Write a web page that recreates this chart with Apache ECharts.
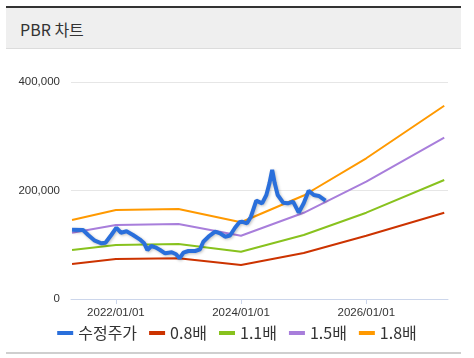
<!DOCTYPE html>
<html>
<head>
<meta charset="utf-8">
<script src="https://cdn.jsdelivr.net/npm/echarts@6/dist/echarts.min.js"></script>
<style>
  html, body { margin: 0; padding: 0; background: #fff; }
  body { width: 474px; height: 358px; position: relative; overflow: hidden; }
  #topbar { position: absolute; left: 6px; top: 6px; width: 455px; height: 2px; background: #333; }
  #header { position: absolute; left: 6px; top: 8px; width: 455px; height: 40px; background: #efefef; border-bottom: 1px solid #dcdcdc; }
  #header span { position: absolute; left: 14px; top: 10px; font-family: "Noto Sans CJK KR", sans-serif; font-size: 16px; color: #333; line-height: 22px; }
  #bottomline { position: absolute; left: 6px; top: 352px; width: 455px; height: 2px; background: #cfcfcf; }
  #chart { position: absolute; left: 0; top: 0; width: 474px; height: 358px; }
</style>
</head>
<body>
<div id="topbar"></div>
<div id="header"><span>PBR 차트</span></div>
<div id="bottomline"></div>
<div id="chart"></div>
<script>
// ---- data ----
const seriesNames = ['수정주가', '0.8배', '1.1배', '1.5배', '1.8배'];

const priceDates = [
  '2021-04-20','2021-06-23','2021-07-23','2021-08-31','2021-10-09','2021-11-01','2021-12-05',
  '2022-01-04','2022-01-30','2022-03-04','2022-04-11','2022-05-20','2022-06-15','2022-07-04',
  '2022-07-27','2022-08-19','2022-09-16','2022-10-15','2022-11-23','2022-12-18','2023-01-07',
  '2023-01-30','2023-02-28','2023-04-08','2023-05-07','2023-05-26','2023-06-25','2023-08-03',
  '2023-09-01','2023-09-30','2023-10-29','2023-11-28','2023-12-23','2024-01-06','2024-02-05',
  '2024-02-28','2024-03-30','2024-05-03','2024-05-28','2024-06-15','2024-07-01','2024-07-16',
  '2024-08-02','2024-09-03','2024-09-30','2024-10-31','2024-12-03','2025-01-01','2025-01-30',
  '2025-03-01','2025-03-30','2025-05-08'
];
const priceValues = [
  127700,127200,118000,107500,102700,103800,118000,
  131400,122200,124800,118000,110000,102700,90300,
  97700,95300,90300,84200,86100,82400,75000,
  85300,88500,88500,91600,105600,114800,124100,
  121100,114800,117000,131800,141400,142500,139500,
  151700,181200,176400,191700,213300,237800,213300,
  191700,177500,176400,179400,159100,176400,199600,
  191700,189900,181200
];

const bandDates = ['2021-04-20','2022-01-01','2023-01-01','2024-01-01','2025-01-01','2026-01-01','2027-04-01'];
const pbr08 = [64500, 73700, 75000, 62700, 84800, 116700, 159100];
const pbr11 = [90300, 99500, 101400, 87200, 118000, 159100, 219400];
const pbr15 = [122200, 136400, 138200, 116700, 158900, 216200, 297300];
const pbr18 = [145600, 164000, 165900, 141400, 190800, 259400, 356300];

const xTickDates = ['2022-01-01', '2024-01-01', '2026-01-01'];
const xMin = '2021-04-14';
const xMax = '2027-04-23';
const yTicks = [0, 200000, 400000];

const colors = ['#2a6fdb', '#cc3300', '#88c21e', '#a87edb', '#ff9900'];

// ---- build ----
function toTs(s) { const p = s.split('-').map(Number); return +new Date(p[0], p[1] - 1, p[2]); }
function pairs(dates, vals) { return dates.map((d, i) => [toTs(d), vals[i]]); }
const tickTs = xTickDates.map(toTs);

const bandSets = [pbr08, pbr11, pbr15, pbr18];
const series = [{
  name: seriesNames[0], type: 'line', data: pairs(priceDates, priceValues),
  symbol: 'none', z: 10,
  lineStyle: { width: 4, color: colors[0], shadowColor: 'rgba(0,0,0,0.25)', shadowBlur: 3, shadowOffsetX: 1, shadowOffsetY: 1 },
  itemStyle: { color: colors[0] }
}].concat(bandSets.map((vals, i) => ({
  name: seriesNames[i + 1], type: 'line', data: pairs(bandDates, vals),
  symbol: 'none', lineStyle: { width: 2, color: colors[i + 1] }, itemStyle: { color: colors[i + 1] }
})));

function fmtDate(v) {
  const d = new Date(v);
  return d.getFullYear() + '/' + String(d.getMonth() + 1).padStart(2, '0') + '/' + String(d.getDate()).padStart(2, '0');
}

const chart = echarts.init(document.getElementById('chart'), null, { renderer: 'canvas' });
chart.setOption({
  animation: false,
  backgroundColor: 'transparent',
  grid: { left: 71, right: 26, top: 82, bottom: 59, containLabel: false },
  legend: {
    data: seriesNames, left: 'center', top: 320, itemGap: 12,
    itemWidth: 16, itemHeight: 4, icon: 'rect',
    textStyle: { fontFamily: '"Noto Sans CJK KR", sans-serif', fontSize: 16, color: '#333' }
  },
  xAxis: {
    type: 'value', min: toTs(xMin), max: toTs(xMax), scale: true,
    axisLine: { show: true, lineStyle: { color: '#ccd6eb', width: 1 } },
    axisTick: { show: true, length: 5, lineStyle: { color: '#ccd6eb' }, customValues: tickTs },
    axisLabel: {
      customValues: tickTs, color: '#333', fontSize: 11.5, margin: 8,
      fontFamily: '"Liberation Sans", Arial, sans-serif',
      formatter: fmtDate
    },
    splitLine: { show: false }
  },
  yAxis: {
    type: 'value', min: yTicks[0], max: yTicks[yTicks.length - 1], interval: yTicks[1] - yTicks[0],
    axisLine: { show: false }, axisTick: { show: false },
    axisLabel: {
      color: '#333', fontSize: 11.5, margin: 11,
      fontFamily: '"Liberation Sans", Arial, sans-serif',
      formatter: function (v) { return echarts.format.addCommas(v); }
    },
    splitLine: { lineStyle: { color: '#e6e6e6', width: 1 } }
  },
  series: series
});
</script>
</body>
</html>
